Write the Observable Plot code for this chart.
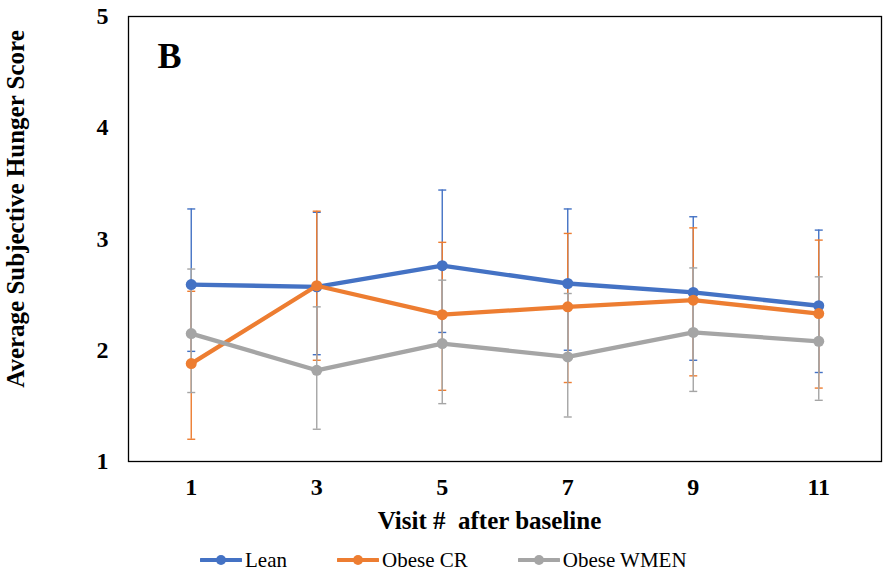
<!DOCTYPE html>
<html>
<head>
<meta charset="utf-8">
<script src="https://cdn.jsdelivr.net/npm/d3@7"></script>
<script src="https://cdn.jsdelivr.net/npm/@observablehq/plot@0.6"></script>
<style>
  html, body { margin: 0; padding: 0; background: #fff; }
  #chart { width: 887px; font-family: "Liberation Serif", "Times New Roman", serif; }
  #legend { display: flex; align-items: center; height: 40px; padding-left: 200px; gap: 50px;
            font-family: "Liberation Serif", "Times New Roman", serif; font-size: 21px; color: #000; }
  .item { display: flex; align-items: center; }
  .item svg { margin-right: 3px; }
</style>
</head>
<body>
<div id="chart"></div>
<script>
// Data
const visits = [1, 3, 5, 7, 9, 11];
const seriesNames = ["Lean", "Obese CR", "Obese WMEN"];
const seriesColors = ["#4472C4", "#ED7D31", "#A5A5A5"];

const leanMean = [2.59, 2.57, 2.76, 2.60, 2.52, 2.40];
const leanHi   = [3.27, 3.24, 3.44, 3.27, 3.20, 3.08];
const leanLo   = [1.99, 1.96, 2.16, 2.00, 1.91, 1.80];

const crMean = [1.88, 2.58, 2.32, 2.39, 2.45, 2.33];
const crHi   = [2.53, 3.25, 2.97, 3.05, 3.10, 2.99];
const crLo   = [1.20, 1.91, 1.64, 1.71, 1.77, 1.66];

const wmenMean = [2.15, 1.82, 2.06, 1.94, 2.16, 2.08];
const wmenHi   = [2.73, 2.39, 2.63, 2.51, 2.74, 2.66];
const wmenLo   = [1.62, 1.29, 1.52, 1.40, 1.63, 1.55];

const yTicks = [1, 2, 3, 4, 5];
const panelLabel = "B";
const xTitle = "Visit #\u00a0 after baseline";
const yTitle = "Average Subjective Hunger Score";

const means = [leanMean, crMean, wmenMean];
const his = [leanHi, crHi, wmenHi];
const los = [leanLo, crLo, wmenLo];

const rows = [];
seriesNames.forEach((s, k) => {
  visits.forEach((v, i) => {
    rows.push({series: s, visit: v, mean: means[k][i], hi: his[k][i], lo: los[k][i]});
  });
});

const capSymbol = {
  draw(context, size) {
    const r = Math.sqrt(size / Math.PI);
    context.moveTo(-r, 0);
    context.lineTo(r, 0);
  }
};

const font = '"Liberation Serif", "Times New Roman", serif';

const colorScale = {domain: seriesNames, range: seriesColors};

const marks = [
  Plot.frame({stroke: "#000", strokeWidth: 1.3}),
  Plot.axisY({ticks: yTicks, tickFormat: "d", tickSize: 0, tickPadding: 20, fontSize: 24, fontWeight: "bold", label: null}),
  Plot.axisX({ticks: visits, tickFormat: "d", tickSize: 0, tickPadding: 16, fontSize: 24, fontWeight: "bold", label: null})
];

// error bars: blue, orange, gray (gray on top)
seriesNames.forEach((s) => {
  const d = rows.filter(r => r.series === s);
  marks.push(Plot.ruleX(d, {x: "visit", y1: "lo", y2: "hi", stroke: "series", strokeWidth: 1.4}));
  marks.push(Plot.dot(d, {x: "visit", y: "hi", symbol: capSymbol, r: 4, stroke: "series", strokeWidth: 1.4, fill: "none"}));
  marks.push(Plot.dot(d, {x: "visit", y: "lo", symbol: capSymbol, r: 4, stroke: "series", strokeWidth: 1.4, fill: "none"}));
});
seriesNames.forEach((s) => {
  const d = rows.filter(r => r.series === s);
  marks.push(Plot.line(d, {x: "visit", y: "mean", stroke: "series", strokeWidth: 4.3}));
  marks.push(Plot.dot(d, {x: "visit", y: "mean", fill: "series", r: 5.5}));
});

marks.push(Plot.text([panelLabel], {frameAnchor: "top-left", dx: 29, dy: 25.5, fontSize: 36, fontWeight: "bold", textAnchor: "start", lineAnchor: "top", fill: "#000"}));
marks.push(Plot.text([xTitle], {frameAnchor: "bottom", dx: -15.5, dy: 59, lineAnchor: "middle", fontSize: 25, fontWeight: "bold", fill: "#000"}));
marks.push(Plot.text([yTitle], {frameAnchor: "left", rotate: -90, dx: -113, dy: -30, lineAnchor: "middle", textAnchor: "middle", fontSize: 25, fontWeight: "bold", fill: "#000"}));

const chart = Plot.plot({
  width: 887,
  height: 540,
  marginLeft: 128,
  marginRight: 6,
  marginTop: 16,
  marginBottom: 79,
  style: {fontFamily: font, color: "#000", background: "#fff", overflow: "visible"},
  x: {type: "linear", domain: [0, 12]},
  y: {type: "linear", domain: [1, 5]},
  color: colorScale,
  marks
});
document.getElementById("chart").appendChild(chart);

// legend below the plot
const legend = document.createElement("div");
legend.id = "legend";
seriesNames.forEach((s, k) => {
  const item = document.createElement("div");
  item.className = "item";
  const c = seriesColors[k];
  item.innerHTML = `<svg width="42" height="12"><line x1="1" y1="6" x2="41" y2="6" stroke="${c}" stroke-width="4" stroke-linecap="round"/><circle cx="21" cy="6" r="5" fill="${c}"/></svg><span>${s}</span>`;
  legend.appendChild(item);
});
document.getElementById("chart").appendChild(legend);
</script>
</body>
</html>
